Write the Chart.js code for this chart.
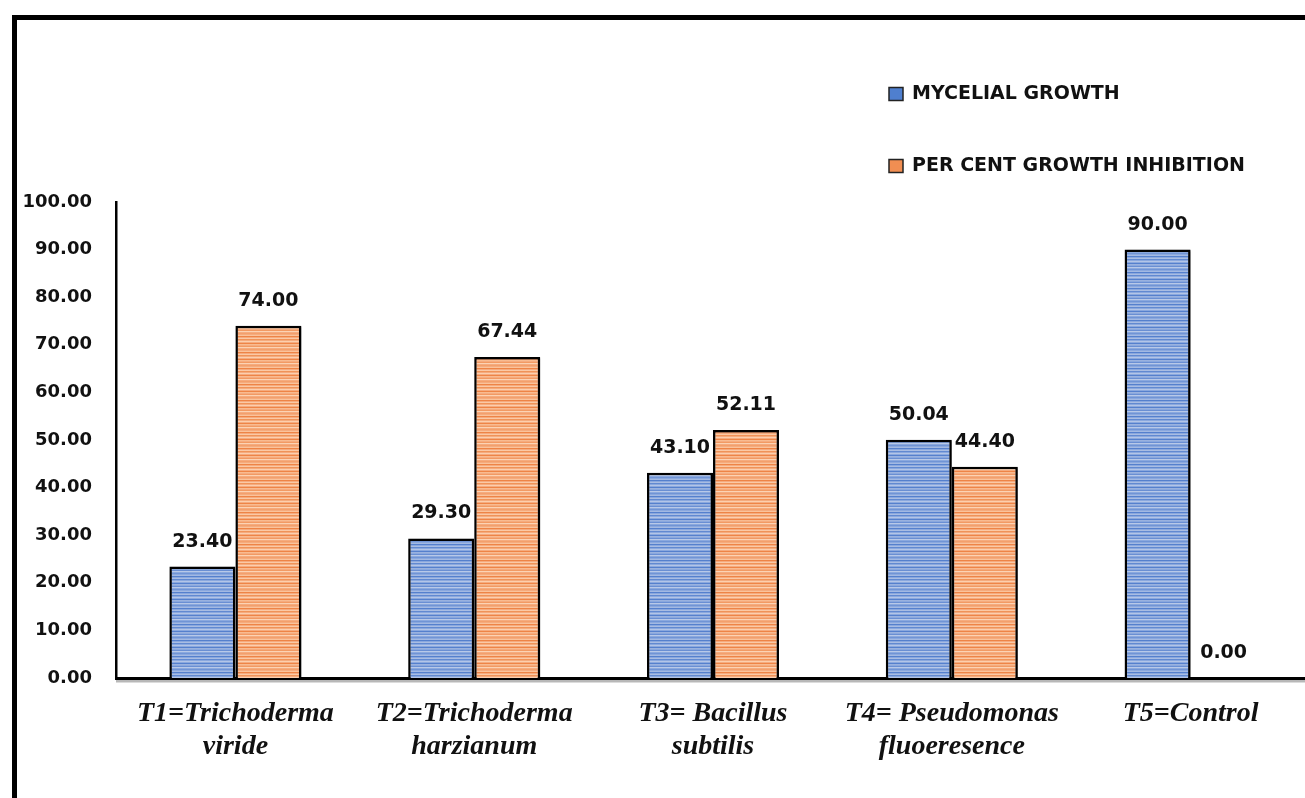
<!DOCTYPE html>
<html>
<head>
<meta charset="utf-8">
<title>Mycelial growth and per cent growth inhibition</title>
<script src="https://cdn.jsdelivr.net/npm/chart.js@4.4.1/dist/chart.umd.min.js"></script>
<style>
  html, body { margin: 0; padding: 0; background: #fff; overflow: hidden; }
  #wrap { position: relative; width: 1305px; height: 798px; overflow: hidden; }
  #frame {
    position: absolute; left: 12px; top: 15px; right: -10px; bottom: -10px;
    border-left: 5px solid #000; border-top: 5px solid #000; pointer-events: none;
  }
  canvas { position: absolute; left: 0; top: 0; }
</style>
</head>
<body>
<div id="wrap">
  <canvas id="chart" width="1310" height="798"></canvas>
  <div id="frame"></div>
</div>
<script>
// Treatments (two-line labels on the category axis)
const categories = [
  ['T1=Trichoderma', 'viride'],
  ['T2=Trichoderma', 'harzianum'],
  ['T3= Bacillus', 'subtilis'],
  ['T4= Pseudomonas', 'fluoeresence'],
  ['T5=Control', '']
];
const seriesNames = ['MYCELIAL GROWTH', 'PER CENT GROWTH INHIBITION'];
const mycelialGrowth = [23.40, 29.30, 43.10, 50.04, 90.00];
const growthInhibition = [74.00, 67.44, 52.11, 44.40, 0.00];
const yTicks = { min: 0, max: 100, step: 10 };

// Horizontal striped fill used for the bars
function stripedFill(base, rows) {
  const c = document.createElement('canvas');
  c.width = 4; c.height = rows.length;
  const g = c.getContext('2d');
  g.fillStyle = base; g.fillRect(0, 0, 4, rows.length);
  rows.forEach((col, i) => { if (col) { g.fillStyle = col; g.fillRect(0, i, 4, 1); } });
  return g.createPattern(c, 'repeat');
}
const blueRows = ['#5580cd', null, '#a9bde3', '#6189d1', null, '#b3c5e7', null, '#5580cd',
                  '#9ab2df', null, '#6a8fd3', '#b8c9e8', null, '#7094d5', null, '#a3b9e2'];
const orangeRows = ['#ee8446', null, '#fbc9a5', '#f09358', null, '#fccfae', null, '#ee8446',
                    '#f9bb90', null, '#f29a63', '#fcd3b4', null, '#f3a06c', null, '#fac39b'];
const blueFill = stripedFill('#8aa8de', blueRows);
const orangeFill = stripedFill('#f5ab7e', orangeRows);
const swatches = ['#4f7fcf', '#f18e52'];

// Value labels above each bar
const valueLabels = {
  id: 'valueLabels',
  afterDatasetsDraw(chart) {
    const ctx = chart.ctx;
    ctx.save();
    ctx.font = 'bold 19px "DejaVu Sans"';
    ctx.fillStyle = '#111';
    ctx.textAlign = 'center';
    ctx.textBaseline = 'middle';
    chart.data.datasets.forEach((ds, di) => {
      chart.getDatasetMeta(di).data.forEach((bar, i) => {
        ctx.fillText(ds.data[i].toFixed(2), bar.x, bar.y - 25);
      });
    });
    ctx.restore();
  }
};

// Soft shadow under bars and along the category axis
const shading = {
  id: 'shading',
  beforeDatasetsDraw(chart) {
    const ctx = chart.ctx;
    ctx.save();
    ctx.shadowColor = 'rgba(0,0,0,0.35)';
    ctx.shadowBlur = 2;
    ctx.shadowOffsetX = 2;
    ctx.shadowOffsetY = 1;
  },
  afterDatasetsDraw(chart) {
    chart.ctx.restore();
    const ctx = chart.ctx, a = chart.chartArea;
    ctx.save();
    ctx.fillStyle = 'rgba(0,0,0,0.28)';
    ctx.fillRect(a.left, a.bottom + 1.5, a.right - a.left, 3);
    ctx.restore();
  }
};

// Stacked legend in the upper right
const stackedLegend = {
  id: 'stackedLegend',
  afterDraw(chart) {
    const ctx = chart.ctx;
    ctx.save();
    ctx.font = 'bold 19px "DejaVu Sans"';
    ctx.textBaseline = 'middle';
    chart.data.datasets.forEach((ds, i) => {
      const y = 94 + i * 72;
      ctx.fillStyle = swatches[i];
      ctx.fillRect(889, y - 6.5, 14, 13);
      ctx.lineWidth = 1.5;
      ctx.strokeStyle = '#222';
      ctx.strokeRect(889, y - 6.5, 14, 13);
      ctx.fillStyle = '#111';
      ctx.fillText(ds.label, 912, y);
    });
    ctx.restore();
  }
};

new Chart(document.getElementById('chart'), {
  type: 'bar',
  data: {
    labels: categories,
    datasets: [
      { label: seriesNames[0], data: mycelialGrowth, backgroundColor: blueFill },
      { label: seriesNames[1], data: growthInhibition, backgroundColor: orangeFill }
    ]
  },
  options: {
    responsive: false,
    animation: false,
    devicePixelRatio: 1,
    layout: { padding: { top: 202, left: 0, right: 0, bottom: 0 } },
    datasets: {
      bar: {
        borderColor: '#000',
        borderWidth: 2.5,
        barPercentage: 1,
        categoryPercentage: 0.553
      }
    },
    plugins: { legend: { display: false }, tooltip: { enabled: false } },
    scales: {
      x: {
        grid: { display: false, drawTicks: false },
        border: { color: '#000', width: 3 },
        ticks: {
          color: '#111',
          padding: 19,
          maxRotation: 0,
          autoSkip: false,
          font: { family: '"Liberation Serif"', size: 28, weight: 'bold', style: 'italic', lineHeight: 1.18 }
        },
        afterFit(scale) { scale.height = 120; }
      },
      y: {
        min: yTicks.min,
        max: yTicks.max,
        grid: { display: false, drawTicks: false },
        border: { color: '#000', width: 2.5 },
        ticks: {
          stepSize: yTicks.step,
          color: '#111',
          padding: 24,
          font: { family: '"DejaVu Sans"', size: 18, weight: 'bold' },
          callback: v => Number(v).toFixed(2)
        },
        afterFit(scale) { scale.width = 116; }
      }
    }
  },
  plugins: [shading, valueLabels, stackedLegend]
});
</script>
</body>
</html>
